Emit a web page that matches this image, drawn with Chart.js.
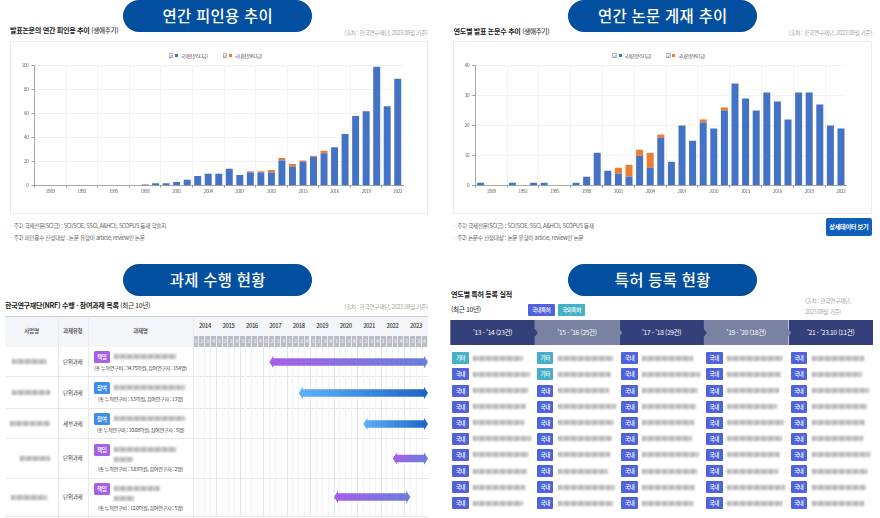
<!DOCTYPE html>
<html lang="ko">
<head>
<meta charset="utf-8">
<title>연구 성과 현황</title>
<script src="https://cdn.jsdelivr.net/npm/chart.js@4"></script>
<style>
  html, body { margin: 0; padding: 0; background: #fff; }
  body { width: 880px; height: 518px; overflow: hidden; position: relative; filter: blur(0.35px);
         font-family: "Noto Sans CJK KR", "Noto Sans", sans-serif; color: #333; letter-spacing: -0.02em; }
  .el { position: absolute; white-space: nowrap; box-sizing: border-box; }
  canvas { position: absolute; display: block; }
  .pill { background: #024f9f; color: #fff; border-radius: 16px; text-align: center;
          font-size: 15.4px; font-weight: 500; line-height: 31px; letter-spacing: 0.02em; }
  .heading { font-size: 7.1px; font-weight: 700; color: #222; line-height: 10px; }
  .heading span { font-weight: 500; font-size: 6.6px; color: #444; }
  .source { font-size: 5.7px; color: #a5a5a5; line-height: 10px; text-align: right; }
  .note { font-size: 5.7px; color: #666; line-height: 10px; }
  .box { border: 1px solid #ebebeb; }
  .btn { background: #0f60bd; color: #fff; border-radius: 2px; font-size: 6.2px; font-weight: 700; text-align: center; line-height: 18px; }
  .legend { font-size: 4.4px; color: #555; line-height: 6px; }
  .check { border: 0.5px solid #bbb; background: #f8f8f8; font-size: 4px; line-height: 5px; text-align: center; color: #445; }
  .th { font-size: 5.6px; font-weight: 500; color: #444; text-align: center; }
  .year { font-size: 5.8px; font-weight: 500; color: #333; text-align: center; line-height: 20px; }
  .quarter { font-size: 4.8px; color: #fff; text-align: center; line-height: 10px; background: #bcbec6; border-right: 0.5px solid #eceef2; }
  .cell { font-size: 5.6px; color: #444; text-align: center; }
  .role { color: #fff; font-size: 5.6px; font-weight: 500; text-align: center; line-height: 12px; border-radius: 1.5px; }
  .amount { font-size: 5.1px; color: #444; text-align: center; line-height: 7px; }
  .redact { background: repeating-linear-gradient(90deg, #7e7e7e 0 3px, #c4c4c4 3px 4px, #979797 4px 6px, #d0d0d0 6px 7px);
            filter: blur(1.1px); opacity: 0.62; }
  .tab { color: #fff; font-size: 6.6px; line-height: 25px; text-align: center; }
  .kind { color: #fff; font-size: 5.4px; font-weight: 500; text-align: center; line-height: 12px; border-radius: 1px; }
</style>
</head>
<body>
<script>
  // Yearly citation and paper counts, 1988-2022
  const years = [1988, 1989, 1990, 1991, 1992, 1993, 1994, 1995, 1996, 1997, 1998, 1999, 2000, 2001, 2002, 2003, 2004,
    2005, 2006, 2007, 2008, 2009, 2010, 2011, 2012, 2013, 2014, 2015, 2016, 2017, 2018, 2019, 2020, 2021, 2022];
  const yearTicks = [1989, 1992, 1995, 1998, 2001, 2004, 2007, 2010, 2013, 2016, 2019, 2022];
  const citationIntl = [0, 0, 0, 0, 0, 0, 0, 0, 0, 0, 1, 2, 2, 3, 5, 8, 10, 10, 14, 9, 11, 11, 11, 21, 16, 20, 24, 27, 32, 43, 58, 62, 99, 66, 89];
  const citationDomestic = [0, 0, 0, 0, 0, 0, 0, 0, 0, 0, 0, 0, 0, 0, 0, 0, 0, 0, 0, 0, 1, 1, 2, 2, 2, 1, 1, 2, 0, 0, 0, 0, 0, 0, 0];
  const paperIntl = [1, 0, 0, 1, 0, 1, 1, 0, 0, 1, 3, 11, 5, 4, 3, 10, 6, 16, 8, 20, 15, 21, 19, 25, 34, 29, 25, 31, 28, 22, 31, 31, 27, 20, 19];
  const paperDomestic = [0, 0, 0, 0, 0, 0, 0, 0, 0, 0, 0, 0, 0, 2, 4, 2, 5, 1, 0, 0, 0, 1, 0, 1, 0, 0, 0, 0, 0, 0, 0, 0, 0, 0, 0];
  const seriesLabels = ['국제전문(SCI급)', '국내전문(KCI급)'];

  // Projects table
  const projectYears = [2014, 2015, 2016, 2017, 2018, 2019, 2020, 2021, 2022, 2023];
  const projectTypes = ['단위과제', '단위과제', '세부과제', '단위과제', '단위과제'];
  const projectRoles = ['책임', '참여', '참여', '책임', '책임'];
  const projectFunds = ['34.75억원', '3.5억원', '10.08억원', '3.83억원', '12.0억원'];
  const projectPeople = ['154명', '13명', '5명', '2명', '5명'];
  const projectStart = [2017.25, 2018.5, 2021.25, 2022.5, 2020];
  const projectEnd = [2024, 2024, 2024, 2024, 2023.25];

  // Patents
  const patentPeriods = ["'13 - '14 (23건)", "'15 - '16 (25건)", "'17 - '18 (29건)", "'19 - '20 (18건)", "'21 - '23.10 (11건)"];
  const patentOtherRows = [1, 2, 0, 0, 0];
  const patentRowCount = 10;

  const blue = '#4472c4';
  const orange = '#ed7d31';

  function add(cls, left, top, width, height, text) {
    const el = document.createElement('div');
    el.className = 'el ' + cls;
    el.style.left = left + 'px';
    el.style.top = top + 'px';
    if (width) el.style.width = width + 'px';
    if (height) el.style.height = height + 'px';
    if (text !== undefined) el.innerHTML = text;
    document.body.appendChild(el);
    return el;
  }

  function addCanvas(left, top, width, height) {
    const canvas = document.createElement('canvas');
    canvas.width = width;
    canvas.height = height;
    canvas.style.left = left + 'px';
    canvas.style.top = top + 'px';
    canvas.style.width = width + 'px';
    canvas.style.height = height + 'px';
    document.body.appendChild(canvas);
    return canvas;
  }

  // Stacked yearly bar chart used by both top panels
  function drawBarChart(canvas, intl, domestic, maxY, step, axisWidth, rightPad) {
    return new Chart(canvas, {
      type: 'bar',
      data: {
        labels: years,
        datasets: [
          { label: seriesLabels[0], data: intl, backgroundColor: blue, borderWidth: 0 },
          { label: seriesLabels[1], data: domestic, backgroundColor: orange, borderWidth: 0 }
        ]
      },
      options: {
        responsive: false,
        animation: false,
        layout: { padding: { top: 24.5, right: rightPad, left: 0, bottom: 0 } },
        datasets: { bar: { barPercentage: 0.66, categoryPercentage: 1 } },
        plugins: { legend: { display: false }, tooltip: { enabled: false } },
        scales: {
          x: {
            stacked: true,
            afterFit: scale => { scale.height = 27.3; },
            border: { color: '#a8a8a8' },
            grid: {
              offset: true,
              color: ctx => (ctx.index % 3 === 0 ? '#f3f3f3' : 'transparent'),
              tickColor: ctx => (ctx.index % 3 === 0 ? '#999' : 'transparent'),
              tickLength: 2
            },
            ticks: {
              autoSkip: false,
              maxRotation: 0,
              padding: 1,
              color: '#666',
              font: { size: 4.6, family: 'Noto Sans CJK KR' },
              callback: (value, i) => (yearTicks.includes(years[i]) ? String(years[i]) : '')
            }
          },
          y: {
            stacked: true,
            min: 0,
            max: maxY,
            afterFit: scale => { scale.width = axisWidth; },
            border: { color: '#a8a8a8' },
            grid: { color: '#f3f3f3', tickColor: '#999', tickLength: 3 },
            ticks: { stepSize: step, padding: 3, color: '#666', font: { size: 4.6, family: 'Noto Sans CJK KR' } }
          }
        }
      }
    });
  }

  // Clip each floating bar to a double-headed arrow
  const arrowClip = {
    id: 'arrowClip',
    beforeDatasetDraw(chart) {
      const bar = chart.getDatasetMeta(0).data[0];
      const y = bar.y;
      const x0 = Math.min(bar.base, bar.x);
      const x1 = Math.max(bar.base, bar.x);
      const ctx = chart.ctx;
      ctx.save();
      ctx.beginPath();
      ctx.moveTo(x0, y);
      ctx.lineTo(x0 + 4, y - 6.2);
      ctx.lineTo(x0 + 4, y - 3.8);
      ctx.lineTo(x1 - 4, y - 3.8);
      ctx.lineTo(x1 - 4, y - 6.2);
      ctx.lineTo(x1, y);
      ctx.lineTo(x1 - 4, y + 6.2);
      ctx.lineTo(x1 - 4, y + 3.8);
      ctx.lineTo(x0 + 4, y + 3.8);
      ctx.lineTo(x0 + 4, y + 6.2);
      ctx.closePath();
      ctx.clip();
    },
    afterDatasetDraw(chart) {
      chart.ctx.restore();
    }
  };

  function drawProjectBar(canvas, start, end, role) {
    return new Chart(canvas, {
      type: 'bar',
      data: {
        labels: [role],
        datasets: [{
          data: [[start, end]],
          barThickness: 13,
          backgroundColor: ctx => {
            if (!ctx.chart.chartArea) return '#888';
            const gradient = ctx.chart.ctx.createLinearGradient(ctx.chart.scales.x.getPixelForValue(start), 0, ctx.chart.scales.x.getPixelForValue(end), 0);
            if (role === '책임') {
              gradient.addColorStop(0, '#a75fe9');
              gradient.addColorStop(1, '#687fdb');
            } else {
              gradient.addColorStop(0, '#5db2f9');
              gradient.addColorStop(1, '#1c64c6');
            }
            return gradient;
          }
        }]
      },
      plugins: [arrowClip],
      options: {
        indexAxis: 'y',
        responsive: false,
        animation: false,
        layout: { padding: 0 },
        plugins: { legend: { display: false }, tooltip: { enabled: false } },
        scales: {
          x: {
            type: 'linear',
            min: projectYears[0],
            max: projectYears[projectYears.length - 1] + 1,
            afterFit: scale => { scale.height = 0; },
            border: { display: false },
            grid: {
              drawTicks: false,
              color: ctx => (Math.round(ctx.tick.value * 4) % 4 === 0 ? '#e3e5ee' : '#f2f3f7')
            },
            ticks: { display: false, stepSize: 0.25, autoSkip: false, maxTicksLimit: 41 }
          },
          y: { display: false }
        }
      }
    });
  }

  /* ---------- top panels ---------- */
  add('pill', 123.3, 0, 189, 32, '연간 피인용 추이');
  add('pill', 568.3, 0, 189, 32, '연간 논문 게재 추이');

  add('heading', 10, 25, 0, 10, '발표논문의 연간 피인용 추이 <span>(생애주기)</span>');
  add('source', 277, 28, 150.5, 10, '(출처 : 한국연구재단, 2023.08월 기준)');
  add('heading', 453.5, 26, 0, 10, '연도별 발표 논문수 추이 <span>(생애주기)</span>');
  add('source', 722, 28, 150, 10, '(출처 : 한국연구재단, 2023.08월 기준)');

  add('box', 10, 40.5, 417.5, 173);
  add('box', 453, 41, 419, 172.5);

  drawBarChart(addCanvas(10, 41, 417, 172), citationIntl, citationDomestic, 100, 20, 24.5, 24);
  drawBarChart(addCanvas(453, 41, 419, 172), paperIntl, paperDomestic, 40, 10, 22.3, 25.7);

  // Legends
  [[168.5, 175, 181, 222.5, 228.5, 235], [612.3, 618.7, 624.3, 666, 672, 678.3]].forEach(pos => {
    add('check', pos[0], 53.3, 4.6, 5, '✓');
    add('', pos[1], 54, 3.4, 3.4).style.background = blue;
    add('legend', pos[2], 52.8, 0, 6, seriesLabels[0]);
    add('check', pos[3], 53.3, 4.6, 5, '✓');
    add('', pos[4], 54, 3.4, 3.4).style.background = orange;
    add('legend', pos[5], 52.8, 0, 6, seriesLabels[1]);
  });

  add('note', 10, 221, 0, 10, '·&nbsp; 주1) 국제전문(SCI급) : SCI(SCIE, SSCI, A&amp;HCI), SCOPUS 등재 학술지');
  add('note', 10, 233, 0, 10, '·&nbsp; 주2) 피인용수 산정대상 : 논문 유형이 article, review인 논문');
  add('note', 453.5, 221, 0, 10, '·&nbsp; 주1) 국제전문(SCI급) : SCI(SCIE, SSCI, A&amp;HCI), SCOPUS 등재');
  add('note', 453.5, 233, 0, 10, '·&nbsp; 주2) 논문수 산정대상 : 논문 유형이 article, review인 논문');
  add('btn', 826, 218, 45.7, 18, '상세데이터 보기');

  /* ---------- projects table ---------- */
  add('pill', 123.3, 264, 189, 32, '과제 수행 현황');
  add('heading', 5, 300, 0, 10, '한국연구재단(NRF) 수행 · 참여과제 목록 <span>(최근 10년)</span>');
  add('source', 277, 302, 150.5, 10, '(출처 : 한국연구재단, 2023.08월 기준)');

  const ganttLeft = 193.3;
  const yearWidth = 23.44;
  add('', 5, 315.7, 422.5, 31).style.background = '#f4f5f8';
  add('', 5, 315.5, 422.5, 0.6).style.background = '#c9cbd3';
  add('th', 5, 315.7, 53, 31, '사업명').style.lineHeight = '31px';
  add('th', 58, 315.7, 29.5, 31, '과제유형').style.lineHeight = '31px';
  add('th', 87.5, 315.7, 105.8, 31, '과제명').style.lineHeight = '31px';
  projectYears.forEach((year, i) => {
    add('year', ganttLeft + i * yearWidth, 315.7, yearWidth, 20.3, year);
    for (let q = 0; q < 4; q++) {
      add('quarter', ganttLeft + i * yearWidth + q * yearWidth / 4, 336, yearWidth / 4, 10.5, q + 1);
    }
  });

  const rowTops = [346.7, 376.7, 408.7, 438.7, 478, 516.3];
  const sideBlur = [[12, 35], [12, 38], [10, 40], [20, 30], [11, 36]];
  const titleBlur = [[62], [71], [71], [62, 19], [46, 20]];
  const roleTops = [351, 381.7, 413, 444, 483];
  const amountTops = [364.2, 394.8, 426.2, 464.8, 503.8];

  projectTypes.forEach((type, i) => {
    const top = rowTops[i];
    const height = rowTops[i + 1] - top;
    add('', 5, top + height - 0.4, 422.5, 0.7).style.background = '#e6e7ee';
    add('redact', sideBlur[i][0], top + height / 2 - 2.5, sideBlur[i][1], 5);
    add('cell', 58, top, 29.5, height, type).style.lineHeight = height + 'px';
    add('role', 93.5, roleTops[i], 16.5, 12, projectRoles[i]).style.background = projectRoles[i] === '책임' ? '#a55fe8' : '#3d8eea';
    titleBlur[i].forEach((w, line) => add('redact', 114, roleTops[i] + 3 + line * 9.6, w, 5));
    add('amount', 87.5, amountTops[i], 105.8, 7, '(총 누적연구비 : ' + projectFunds[i] + ', 참여연구자 : ' + projectPeople[i] + ')');
    drawProjectBar(addCanvas(193, Math.round(top), 235, Math.round(rowTops[i + 1]) - Math.round(top)), projectStart[i], projectEnd[i], projectRoles[i]);
  });
  [58, 87.5, 193].forEach(x => { add('', x, 315.7, 0.7, 202.3).style.background = '#e9eaf0'; });

  /* ---------- patents ---------- */
  add('pill', 568.3, 264, 189, 32, '특허 등록 현황');
  add('heading', 451, 289, 0, 10, '연도별 특허 등록 실적');
  add('heading', 451, 304, 0, 10, '<span>(최근 10년)</span>');
  add('kind', 527.7, 304, 27, 12.4, '국내특허').style.background = '#5063de';
  add('kind', 558, 304, 27, 12.4, '국외특허').style.background = '#45b0c6';
  const patentSource = add('source', 805, 296, 0, 20, '(출처 : 한국연구재단,<br>2023.08월 기준)');
  patentSource.style.textAlign = 'left';
  patentSource.style.lineHeight = '10.5px';

  const tabWidth = 84.55;
  const tabLeft = 450.3;
  patentPeriods.forEach((period, i) => {
    const last = i === patentPeriods.length - 1;
    const tab = add('tab', tabLeft + i * tabWidth, 320, tabWidth + (last ? 0 : 3), 25.4, period);
    tab.style.background = i % 2 === 0 ? '#33407a' : '#7a82a3';
    tab.style.zIndex = 20 - i;
    tab.style.paddingRight = last ? '0' : '3px';
    if (!last) tab.style.clipPath = 'polygon(0 0, calc(100% - 3px) 0, calc(100% - 3px) 35%, 100% 50%, calc(100% - 3px) 65%, calc(100% - 3px) 100%, 0 100%)';

    for (let r = 0; r < patentRowCount; r++) {
      const y = 352.3 + r * 16.1;
      const x = 452.3 + i * tabWidth;
      const other = r < patentOtherRows[i];
      add('kind', x, y, 16.6, 12, other ? '기타' : '국내').style.background = other ? '#45b0c6' : '#5063de';
      add('redact', x + 21, y + 3.5, 50 + (r * 7 + i * 5) % 9, 5);
    }
  });
</script>
</body>
</html>
